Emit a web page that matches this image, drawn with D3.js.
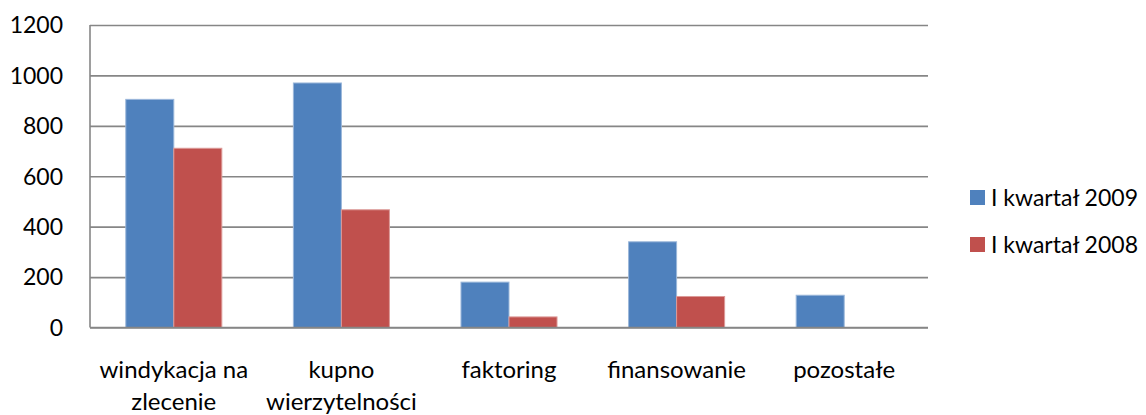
<!DOCTYPE html>
<html>
<head>
<meta charset="utf-8">
<script src="https://cdn.jsdelivr.net/npm/d3@7"></script>
<style>
  body { margin: 0; background: #fff; }
  text { font-family: Lato, "Open Sans", sans-serif; fill: #000; }
</style>
</head>
<body>
<div id="chart"></div>
<script>
const categories = [["windykacja na", "zlecenie"], ["kupno", "wierzytelności"], ["faktoring"], ["finansowanie"], ["pozostałe"]]
const seriesNames = ["I kwartał 2009", "I kwartał 2008"]
const values2009 = [905, 970, 180, 340, 128]
const values2008 = [711, 467, 42, 123, 0]
const yTicks = [0, 200, 400, 600, 800, 1000, 1200]
const colors = ["#4F81BD", "#C0504D"]
const strokes = ["#9bb7da", "#dc9a98"]

const width = 1146
const height = 415
const mLeft = 90, mRight = 928, mTop = 25, mBottom = 327.5

const svg = d3.select("#chart")
    .append("svg")
    .attr("width", width)
    .attr("height", height)

const y = d3.scaleLinear().domain([0, 1200]).range([mBottom, mTop])
const keys = categories.map((c, i) => i)
const x0 = d3.scaleBand().domain(keys).range([mLeft, mRight])
    .paddingInner(0.427).paddingOuter(0.2135)
const x1 = d3.scaleBand().domain([0, 1]).range([0, x0.bandwidth()])

// gridlines
svg.append("g")
    .attr("transform", "translate(" + mLeft + ",0)")
    .call(d3.axisLeft(y).tickValues(yTicks).tickSize(-(mRight - mLeft)).tickFormat(""))
    .call(g => g.select(".domain").remove())
    .selectAll("line")
    .attr("stroke", "#868686")
    .attr("stroke-width", 1.6)

// tick labels
svg.selectAll(".ylab")
    .data(yTicks)
    .enter().append("text")
    .attr("class", "ylab")
    .attr("x", 63)
    .attr("y", d => y(d))
    .attr("dy", "0.36em")
    .attr("text-anchor", "end")
    .attr("font-size", "23px")
    .text(d => d)

// bars
const series = [values2009, values2008]
series.forEach((vals, s) => {
    svg.selectAll(".bar" + s)
        .data(vals)
        .enter().append("rect")
        .attr("x", (d, i) => x0(i) + x1(s))
        .attr("y", d => y(d))
        .attr("width", x1.bandwidth())
        .attr("height", d => mBottom - y(d))
        .attr("fill", colors[s])
        .attr("stroke", d => d > 0 ? strokes[s] : "none")
        .attr("stroke-width", 1)
})

// axes lines
svg.append("line")
    .attr("x1", mLeft).attr("x2", mLeft)
    .attr("y1", mTop).attr("y2", mBottom)
    .attr("stroke", "#868686").attr("stroke-width", 1.6)
svg.append("line")
    .attr("x1", mLeft).attr("x2", mRight)
    .attr("y1", mBottom).attr("y2", mBottom)
    .attr("stroke", "#868686").attr("stroke-width", 1.6)

// category labels
categories.forEach((lines, i) => {
    const cx = x0(i) + x0.bandwidth() / 2
    const t = svg.append("text")
        .attr("text-anchor", "middle")
        .attr("font-size", "24px")
        .attr("x", cx)
        .attr("y", 378)
    lines.forEach((l, j) => {
        t.append("tspan")
            .attr("x", cx)
            .attr("dy", j === 0 ? 0 : 32)
            .text(l)
    })
})

// legend
seriesNames.forEach((n, i) => {
    const ly = 190 + i * 47
    svg.append("rect")
        .attr("x", 970).attr("y", ly)
        .attr("width", 15).attr("height", 15)
        .attr("fill", colors[i])
    svg.append("text")
        .attr("x", 991).attr("y", ly + 7.5)
        .attr("dy", "0.36em")
        .attr("font-size", "23px")
        .text(n)
})
</script>
</body>
</html>
